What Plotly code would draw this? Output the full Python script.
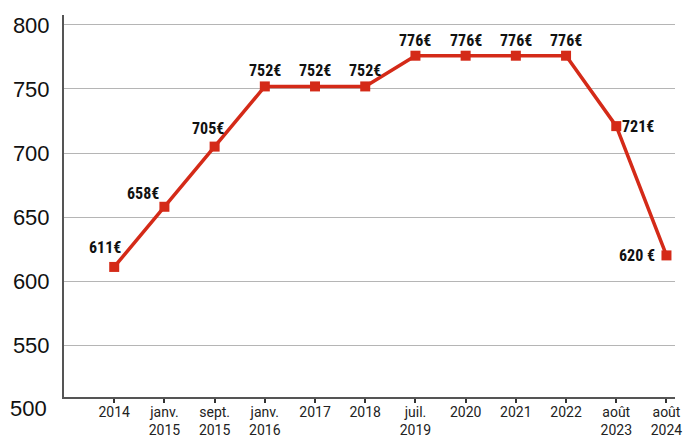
import plotly.graph_objects as go

categories = ["2014", "janv.<br>2015", "sept.<br>2015", "janv.<br>2016", "2017", "2018",
              "juil.<br>2019", "2020", "2021", "2022", "août<br>2023", "août<br>2024"]
values = [611, 658, 705, 752, 752, 752, 776, 776, 776, 776, 721, 620]
value_labels = ["611€", "658€", "705€", "752€", "752€", "752€", "776€", "776€", "776€", "776€", "721€", "620 €"]
y_ticks = [550, 600, 650, 700, 750, 800]
y_bottom_label = 500

RED = "#D42A18"
LABEL_FONT = dict(family="Roboto Condensed, Liberation Sans Narrow, Roboto, sans-serif",
                  size=16, color="#111111", weight="bold")

# per-point label offsets (style only)
offsets = [(-9, 19), (-21, 13), (-7, 18), (0, 16), (0, 16), (0, 16),
           (0, 15), (0, 15), (0, 15), (0, 15), (22, 0), (-29, 0)]

fig = go.Figure()
fig.add_trace(go.Scatter(
    x=categories, y=values, mode="lines+markers",
    line=dict(color=RED, width=3.5),
    marker=dict(symbol="square", size=10, color=RED),
    hoverinfo="skip", cliponaxis=False,
))

for i, (v, t, (dx, dy)) in enumerate(zip(values, value_labels, offsets)):
    fig.add_annotation(x=i, y=v, text=t, showarrow=False, xshift=dx, yshift=dy,
                       font=LABEL_FONT, xanchor="center", yanchor="middle")

fig.add_annotation(xref="paper", x=0, yref="paper", y=0, text=str(y_bottom_label),
                   showarrow=False, xanchor="right", yanchor="middle", xshift=-15, yshift=-11,
                   font=dict(family="Liberation Sans, Arial, sans-serif", size=22, color="#111111"))

fig.update_layout(
    width=683, height=439,
    margin=dict(l=64, r=8, t=15, b=42, autoexpand=False),
    paper_bgcolor="white", plot_bgcolor="white",
    showlegend=False,
    xaxis=dict(
        type="category", range=[-1.0, 11.17], automargin=False,
        showgrid=False, showline=True, linecolor="#555555", linewidth=2,
        ticks="outside", ticklen=4, tickwidth=1.5, tickcolor="#333333",
        ticklabelstandoff=-3,
        tickfont=dict(family="Roboto, sans-serif", size=14, color="#222222"),
        zeroline=False,
    ),
    yaxis=dict(
        range=[509.4, 807.8], tickvals=y_ticks, automargin=False,
        showgrid=True, gridcolor="#b5b5b5", gridwidth=1.2,
        showline=True, linecolor="#555555", linewidth=2,
        ticks="", ticklabelstandoff=8,
        tickfont=dict(family="Liberation Sans, Arial, sans-serif", size=22, color="#111111"),
        zeroline=False,
    ),
)

fig.write_html("out.html", config={"displayModeBar": False},
               post_script="document.body.style.margin='0';")
